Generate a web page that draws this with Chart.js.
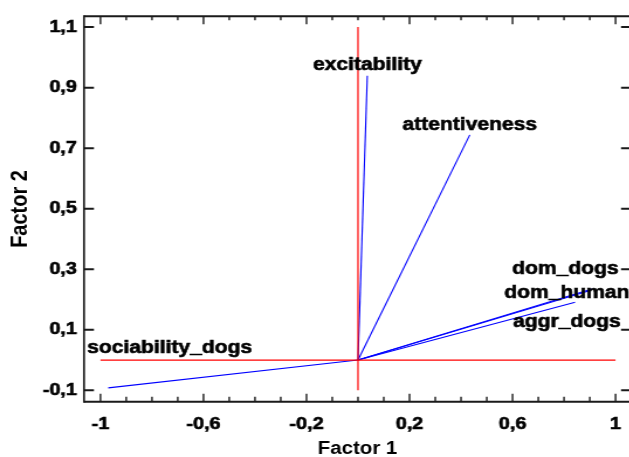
<!DOCTYPE html>
<html>
<head>
<meta charset="utf-8">
<script src="https://cdn.jsdelivr.net/npm/chart.js@4"></script>
<style>
  html, body { margin: 0; padding: 0; background: #fff; overflow: hidden; width: 629px; height: 457px; }
  #wrap { width: 548px; height: 457px; transform: scaleX(1.17); transform-origin: 0 0; }
</style>
</head>
<body>
<div id="wrap"><canvas id="biplot"></canvas></div>
<script>
// loadings of each variable on the two factors
const variables = ['excitability', 'attentiveness', 'dom_dogs', 'dom_human', 'aggr_dogs', 'sociability_dogs'];
const factor1 = [0.036, 0.434, 0.908, 0.895, 0.843, -0.970];
const factor2 = [0.939, 0.744, 0.235, 0.228, 0.191, -0.092];

const xTicks = [-1, -0.6, -0.2, 0.2, 0.6, 1];
const yTicks = [-0.1, 0.1, 0.3, 0.5, 0.7, 0.9, 1.1];

const fmt = v => String(+v.toFixed(1)).replace('.', ',');
const font = "'Liberation Sans', Arial, sans-serif";
const boldFont = { family: font, size: 17, weight: 'bold' };

// where each label sits relative to the tip of its vector (px)
const labelPlace = {
    excitability:     { align: 'center', dx: 0,   dy: -11 },
    attentiveness:    { align: 'center', dx: 0,   dy: -10 },
    dom_dogs:         { align: 'right',  dx: 23,  dy: -20 },
    dom_human:        { align: 'right',  dx: 35,  dy: 2 },
    aggr_dogs:        { align: 'right',  dx: 39,  dy: 20 },
    sociability_dogs: { align: 'left',   dx: -18, dy: -40 }
};

const vectors = variables.map((name, i) => ({
    label: name,
    data: [{ x: 0, y: 0 }, { x: factor1[i], y: factor2[i] }],
    borderColor: '#0000ff',
    borderWidth: 1.1,
    showLine: true,
    pointRadius: 0
}));

const crossLines = [
    { label: 'h0', data: [{ x: -1, y: 0 }, { x: 1, y: 0 }] },
    { label: 'v0', data: [{ x: 0, y: -0.1 }, { x: 0, y: 1.1 }] }
].map(d => ({ ...d, borderColor: '#ff0000', borderWidth: 1.2, showLine: true, pointRadius: 0 }));

const frame = {
    id: 'frame',
    afterDraw(chart) {
        const { ctx, chartArea: a, scales: { x, y } } = chart;
        ctx.save();
        ctx.strokeStyle = '#1a1a1a';
        ctx.lineWidth = 2;
        ctx.beginPath();
        ctx.moveTo(a.left, a.top); ctx.lineTo(a.right + 20, a.top);
        ctx.moveTo(a.left, a.bottom); ctx.lineTo(a.right + 20, a.bottom);
        ctx.stroke();
        ctx.lineWidth = 1.7;
        ctx.beginPath();
        ctx.moveTo(a.left, a.top - 1); ctx.lineTo(a.left, a.bottom + 1);
        ctx.stroke();

        ctx.lineWidth = 1.4;
        ctx.beginPath();
        for (let k = -10; k <= 10; k++) {
            const px = x.getPixelForValue(k / 10);
            const major = (k + 10) % 4 === 0;
            ctx.moveTo(px, a.bottom); ctx.lineTo(px, a.bottom - (major ? 8 : 5));
            ctx.moveTo(px, a.top); ctx.lineTo(px, a.top + (major ? 8 : 4));
        }
        ctx.stroke();
        ctx.lineWidth = 2;
        ctx.beginPath();
        yTicks.forEach(v => {
            const py = y.getPixelForValue(v);
            ctx.moveTo(a.left, py); ctx.lineTo(a.left + 8.5, py);
            ctx.moveTo(a.right, py); ctx.lineTo(a.right - 8.5, py);
        });
        ctx.stroke();

        ctx.fillStyle = '#000';
        ctx.strokeStyle = '#000';
        ctx.lineWidth = 0.6;
        ctx.font = 'bold 18px ' + font;
        ctx.textBaseline = 'middle';
        variables.forEach((name, i) => {
            const p = labelPlace[name];
            const tx = x.getPixelForValue(factor1[i]) + p.dx;
            const ty = y.getPixelForValue(factor2[i]) + p.dy;
            ctx.textAlign = p.align;
            ctx.fillText(name, tx, ty);
            ctx.strokeText(name, tx, ty);
        });
        ctx.restore();
    }
};

new Chart(document.getElementById('biplot'), {
    type: 'scatter',
    data: { datasets: [...crossLines, ...vectors] },
    options: {
        responsive: true,
        maintainAspectRatio: false,
        animation: false,
        layout: { padding: { top: 14, right: 8.7, left: 0, bottom: 0 } },
        plugins: { legend: { display: false }, tooltip: { enabled: false } },
        scales: {
            x: {
                type: 'linear',
                min: -1.064,
                max: 1.06,
                afterBuildTicks: s => { s.ticks = xTicks.map(v => ({ value: v })); },
                afterFit: s => { s.height = 55.3; },
                grid: { display: false, drawTicks: false },
                border: { display: false },
                ticks: { callback: fmt, color: '#000', padding: 12, maxRotation: 0, textStrokeColor: '#000', textStrokeWidth: 0.6, font: boldFont },
                title: { display: true, text: 'Factor 1', color: '#000', padding: { top: 0, bottom: -3 }, font: { family: font, size: 17.5, weight: 'bold' } }
            },
            y: {
                type: 'linear',
                min: -0.1376,
                max: 1.136,
                afterBuildTicks: s => { s.ticks = yTicks.map(v => ({ value: v })); },
                afterFit: s => { s.width = 71.8; },
                grid: { display: false, drawTicks: false },
                border: { display: false },
                ticks: { callback: fmt, color: '#000', padding: 6, textStrokeColor: '#000', textStrokeWidth: 0.6, font: boldFont },
                title: { display: true, text: 'Factor 2', color: '#000', padding: { top: 5, bottom: 0 }, font: { family: font, size: 20, weight: 'bold' } }
            }
        }
    },
    plugins: [frame]
});
</script>
</body>
</html>
